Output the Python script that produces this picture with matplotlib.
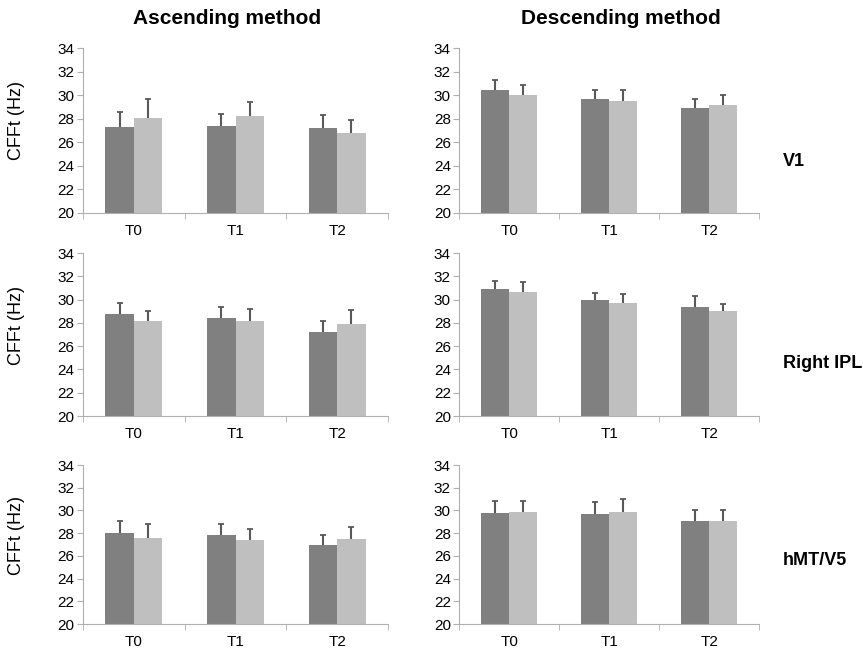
import numpy as np
import matplotlib
matplotlib.use("Agg")
import matplotlib.pyplot as plt

plt.rcParams['font.family'] = ['Liberation Sans', 'DejaVu Sans']

tiempos = ["T0", "T1", "T2"]
metodos = ["Ascending method", "Descending method"]
regiones = ["V1", "Right IPL", "hMT/V5"]

# medias (barra oscura, barra clara) y extremo superior del error
asc_v1_osc = [27.3, 27.4, 27.2]
asc_v1_cla = [28.1, 28.2, 26.8]
asc_v1_osc_err = [28.6, 28.4, 28.3]
asc_v1_cla_err = [29.7, 29.4, 27.9]

desc_v1_osc = [30.4, 29.7, 28.9]
desc_v1_cla = [30.0, 29.5, 29.2]
desc_v1_osc_err = [31.3, 30.4, 29.7]
desc_v1_cla_err = [30.9, 30.4, 30.0]

asc_ipl_osc = [28.75, 28.4, 27.2]
asc_ipl_cla = [28.15, 28.15, 27.9]
asc_ipl_osc_err = [29.7, 29.35, 28.2]
asc_ipl_cla_err = [29.0, 29.2, 29.1]

desc_ipl_osc = [30.9, 29.95, 29.4]
desc_ipl_cla = [30.65, 29.75, 29.0]
desc_ipl_osc_err = [31.6, 30.6, 30.3]
desc_ipl_cla_err = [31.5, 30.45, 29.6]

asc_mt_osc = [28.0, 27.8, 27.0]
asc_mt_cla = [27.6, 27.4, 27.5]
asc_mt_osc_err = [29.05, 28.85, 27.85]
asc_mt_cla_err = [28.85, 28.35, 28.5]

desc_mt_osc = [29.8, 29.7, 29.05]
desc_mt_cla = [29.85, 29.9, 29.05]
desc_mt_osc_err = [30.85, 30.75, 30.0]
desc_mt_cla_err = [30.85, 31.0, 30.0]

paneles = [
    [(asc_v1_osc, asc_v1_cla, asc_v1_osc_err, asc_v1_cla_err),
     (desc_v1_osc, desc_v1_cla, desc_v1_osc_err, desc_v1_cla_err)],
    [(asc_ipl_osc, asc_ipl_cla, asc_ipl_osc_err, asc_ipl_cla_err),
     (desc_ipl_osc, desc_ipl_cla, desc_ipl_osc_err, desc_ipl_cla_err)],
    [(asc_mt_osc, asc_mt_cla, asc_mt_osc_err, asc_mt_cla_err),
     (desc_mt_osc, desc_mt_cla, desc_mt_osc_err, desc_mt_cla_err)],
]

fig = plt.figure(figsize=(8.63, 6.57), dpi=100)

col_x = [(0.0962, 0.3534), (0.532, 0.3476)]
fila_y = [(0.6758, 0.2511), (0.3668, 0.2480), (0.0502, 0.2420)]
region_y = [0.31, 0.325, 0.40]

gris_osc = "#808080"
gris_cla = "#bfbfbf"
gris_err = "#595959"
gris_eje = "#b0b0b0"
ancho = 0.28
x = np.arange(len(tiempos))


def barras(ax, pos, medias, tope, color):
    medias = np.array(medias)
    tope = np.array(tope)
    ax.bar(pos, medias - 20, ancho, bottom=20, color=color, zorder=2)
    # solo la parte superior del error
    ax.vlines(pos, medias, tope, color=gris_err, linewidth=1.5, zorder=3)
    ax.plot(pos, tope, linestyle='none', marker='_', markersize=5,
            markeredgewidth=1.3, color=gris_err, zorder=3)


for i in range(3):
    for j in range(2):
        osc, cla, osc_err, cla_err = paneles[i][j]
        ax = fig.add_axes([col_x[j][0], fila_y[i][0], col_x[j][1], fila_y[i][1]])
        barras(ax, x - ancho / 2, osc, osc_err, gris_osc)
        barras(ax, x + ancho / 2, cla, cla_err, gris_cla)
        ax.set_ylim(20, 34)
        ax.set_xlim(-0.5, 2.5)
        ax.set_yticks(range(20, 35, 2))
        ax.set_xticks(x)
        ax.set_xticklabels(tiempos)
        ax.set_xticks([-0.5, 0.5, 1.5, 2.5], minor=True)
        ax.tick_params(axis='x', which='major', length=0, pad=8, labelsize=11)
        ax.tick_params(axis='x', which='minor', length=4, color=gris_eje)
        ax.tick_params(axis='y', length=4, color=gris_eje, labelsize=11, pad=2)
        for lado in ["top", "right"]:
            ax.spines[lado].set_visible(False)
        for lado in ["left", "bottom"]:
            ax.spines[lado].set_color(gris_eje)
        if j == 0:
            ax.set_ylabel("CFFt (Hz)", fontsize=13)
            ax.yaxis.set_label_coords(-0.19, 0.558)
        if j == 1:
            ax.text(1.08, region_y[i], regiones[i], transform=ax.transAxes, fontsize=13,
                    fontweight='bold', va='center', ha='left')

fig.text(227 / 863, 1 - 18 / 657, metodos[0], fontsize=15, fontweight='bold',
         ha='center', va='center')
fig.text(621 / 863, 1 - 18 / 657, metodos[1], fontsize=15, fontweight='bold',
         ha='center', va='center')

plt.savefig("out.png", dpi=100)
